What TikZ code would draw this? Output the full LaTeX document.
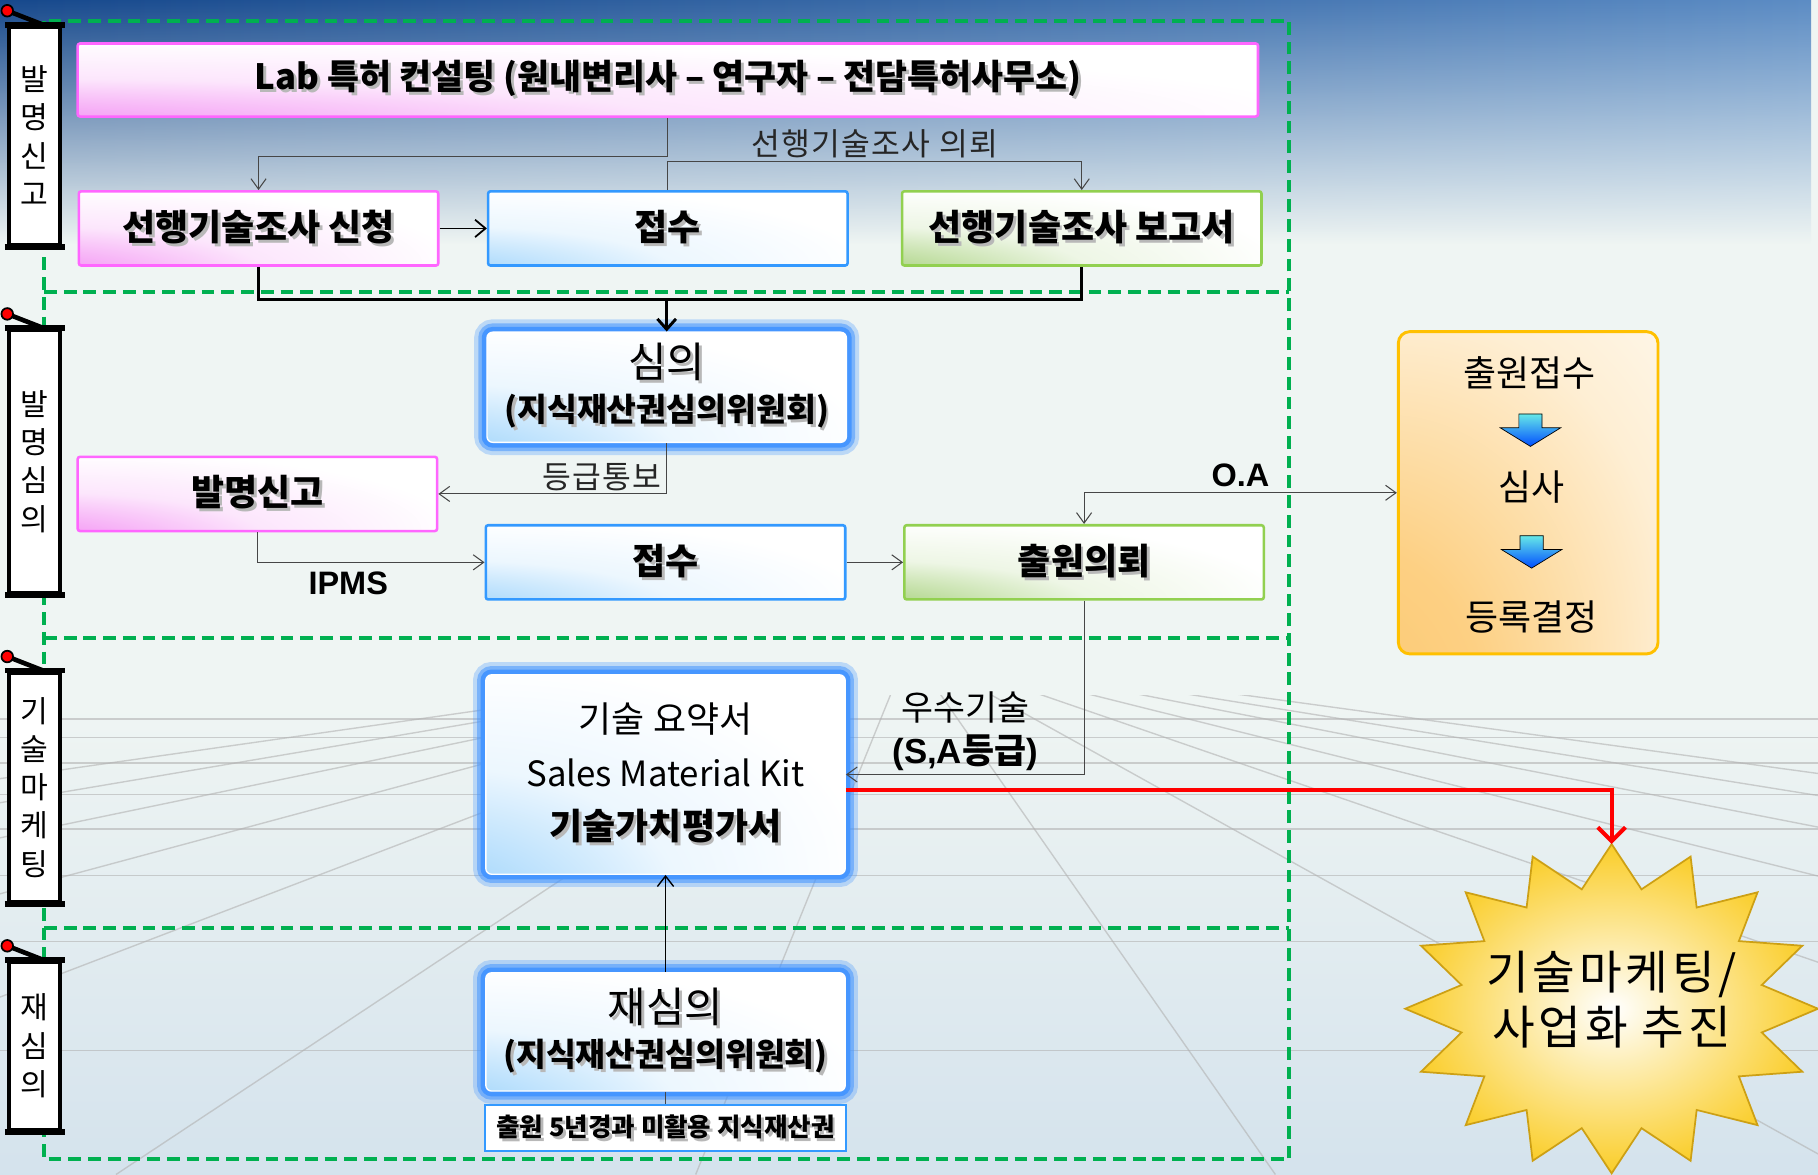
\documentclass[tikz,border=0pt]{standalone}
\usepackage{fontspec}
\setmainfont{Noto Sans CJK KR}
\setsansfont{Liberation Sans}
\usetikzlibrary{arrows.meta,calc,fadings,positioning}

% colours
\definecolor{bgtop}{RGB}{92,140,196}
\definecolor{bgdark}{RGB}{22,72,140}
\definecolor{bgcyan}{RGB}{175,220,228}
\definecolor{bgmid}{RGB}{239,245,243}
\definecolor{bglow}{RGB}{168,196,226}
\definecolor{zonegreen}{RGB}{0,176,80}
\definecolor{pinkline}{RGB}{255,102,255}
\definecolor{pinkfill}{RGB}{238,100,238}
\definecolor{blueline}{RGB}{51,153,255}
\definecolor{bluefill}{RGB}{120,195,250}
\definecolor{greenline}{RGB}{146,208,80}
\definecolor{greenfill}{RGB}{130,190,70}
\definecolor{glowblue}{RGB}{70,150,255}
\definecolor{orangeline}{RGB}{255,192,0}
\definecolor{orangefill}{RGB}{252,196,100}
\definecolor{goldedge}{RGB}{205,160,20}
\definecolor{gold}{RGB}{250,205,40}
\definecolor{wire}{RGB}{70,70,70}

\pgfdeclareverticalshading{backdrop}{100bp}{color(0bp)=(bglow); color(21bp)=(bglow!45!bgmid); color(45bp)=(bgmid); color(75bp)=(bgmid); color(86bp)=(bgcyan); color(100bp)=(bgtop)}
\tikzfading[name=fade down, top color=transparent!0, bottom color=transparent!100]
% box fills: colour pooled in the lower left corner
\pgfdeclareradialshading{pinkglow}{\pgfpoint{-45bp}{-45bp}}{color(0bp)=(pinkfill); color(15bp)=(pinkfill!65!white); color(32bp)=(pinkfill!16!white); color(50bp)=(white); color(100bp)=(white)}
\pgfdeclareradialshading{blueglow}{\pgfpoint{-45bp}{-45bp}}{color(0bp)=(bluefill); color(15bp)=(bluefill!65!white); color(32bp)=(bluefill!14!white); color(50bp)=(white); color(100bp)=(white)}
\pgfdeclareradialshading{greenglow}{\pgfpoint{-45bp}{-45bp}}{color(0bp)=(greenfill); color(15bp)=(greenfill!65!white); color(32bp)=(greenfill!14!white); color(50bp)=(white); color(100bp)=(white)}
\pgfdeclareradialshading{orangeglow}{\pgfpoint{-45bp}{-45bp}}{color(0bp)=(orangefill); color(25bp)=(orangefill!80!white); color(50bp)=(orangefill!28!white); color(75bp)=(white); color(100bp)=(white)}

\newcommand\fsz[2]{\fontsize{#1}{#2}\selectfont}
% grey drop shadow behind box titles
\newcommand\shadowed[1]{\leavevmode\rlap{\kern2.5pt\raisebox{-2.5pt}{\textcolor{black!28}{#1}}}#1}
% blue block arrow between two stages
\newcommand\downblock[1]{\path[stagearrow] (#1) ++(-10,-14) -- ++(20,0) -- ++(0,12) -- ++(16,0) -- ++(-26,16) -- ++(-26,-16) -- ++(16,0) -- cycle;}

\begin{document}
\begin{tikzpicture}[x=1pt,y=-1pt,
  every node/.style={inner sep=0pt},
  box/.style={draw, line width=2.2pt, rounded corners=2pt, minimum width=310pt, minimum height=64pt, font=\fsz{31}{34}\bfseries, align=center, shade},
  pinkbox/.style={box, draw=pinkline, shading=pinkglow},
  bluebox/.style={box, draw=blueline, shading=blueglow},
  greenbox/.style={box, draw=greenline, shading=greenglow},
  glowbox/.style={box, draw=white, line width=1.2pt, rounded corners=5pt, font=\fsz{29}{38}\bfseries, shading=blueglow,
    preaction={draw=glowblue, line width=22pt, opacity=.3},
    preaction={draw=glowblue, line width=15pt, opacity=.55},
    preaction={draw=glowblue, line width=9pt}},
  plainbox/.style={draw=blueline, line width=1.5pt, fill=white, minimum width=311pt, minimum height=40pt, font=\fsz{22}{24}\bfseries},
  officebox/.style={draw=orangeline, line width=2.5pt, rounded corners=10pt, minimum width=224pt, minimum height=278pt, shade, shading=orangeglow},
  stage/.style={font=\fsz{31}{34}},
  stagearrow/.style={draw=black, line width=0.6pt, top color=cyan!70!teal!60, bottom color=blue!70!cyan},
  banner/.style={draw, fill=white, line width=3.5pt, minimum width=44pt, align=center, font=\fsz{26}{33}},
  zone/.style={draw=zonegreen, line width=3.5pt, dash pattern=on 11pt off 6pt},
  gridline/.style={draw=black!30, line width=1.2pt, opacity=.6},
  wire/.style={draw=wire, line width=0.9pt},
  wirearrow/.style={wire, -{Straight Barb[length=9pt,width=13pt]}},
  note/.style={font=\fsz{27}{30}\addfontfeatures{LetterSpace=4}, text=black!85},
  tag/.style={font=\sffamily\bfseries\fsz{28}{30}},
  burst/.style={draw=goldedge, line width=1.5pt, inner color=white, outer color=gold},
  pushline/.style={draw=red, line width=3.5pt, -{Straight Barb[length=12pt,width=24pt]}}
]
\useasboundingbox (0,0) rectangle (1568,1013);

% backdrop with floor grid
\shade[shading=backdrop] (0,0) rectangle (1568,1013);
\shade[left color=bgdark, right color=bgtop, path fading=fade down] (0,0) rectangle (1568,210);
\begin{scope}
\clip (0,600) rectangle (1568,1013);
\foreach \gy in {620,636,658,685,715,755,812,906}
  \draw[gridline] (0,\gy) -- (1568,\gy);
\foreach \gx in {-2400,-1900,...,4100}
  \draw[gridline] (784,560) -- (\gx,1013);
\end{scope}

% stage zones
\draw[zone] (38,18) rectangle (1112,1000);
\draw[zone] (38,252) -- (1112,252);
\draw[zone] (38,550) -- (1112,550);
\draw[zone] (38,800) -- (1112,800);

% side banners
\node[banner, minimum height=188pt] (tag1) at (30,117) {발\\명\\신\\고};
\node[banner, minimum height=227pt] (tag2) at (30,398) {발\\명\\심\\의};
\node[banner, minimum height=198pt] (tag3) at (30,679) {기\\술\\마\\케\\팅};
\node[banner, minimum height=145pt] (tag4) at (30,902) {재\\심\\의};
\foreach \t in {tag1,tag2,tag3,tag4}{
  \draw[line width=5pt] ([xshift=-2pt]\t.north west) -- ([xshift=2pt]\t.north east);
  \draw[line width=5pt] ([xshift=-2pt]\t.south west) -- ([xshift=2pt]\t.south east);
  \draw[line width=4pt] ([shift={(0pt,12pt)}]\t.north west) -- ([xshift=7pt]\t.north);
  \filldraw[fill=red, draw=black, line width=1.5pt] ([shift={(0pt,12pt)}]\t.north west) circle (5pt);
}

% boxes
\node[pinkbox, minimum width=1018pt, minimum height=63pt, font=\fsz{30}{32}\bfseries] (lab) at (576,69)
  {\shadowed{Lab 특허 컨설팅 (원내변리사 – 연구자 – 전담특허사무소)}};
\node[pinkbox] (apply) at (223,197) {\shadowed{선행기술조사 신청}};
\node[bluebox] (recv1) at (576,197) {\shadowed{접수}};
\node[greenbox] (report) at (933,197) {\shadowed{선행기술조사 보고서}};
\node[glowbox, minimum height=95pt] (review) at (575,334)
  {{\fsz{36}{40}\mdseries\shadowed{심의}}\\{\fsz{28}{30}\shadowed{(지식재산권심의위원회)}}};
\node[pinkbox] (disclose) at (222,426) {\shadowed{발명신고}};
\node[bluebox] (recv2) at (574,485) {\shadowed{접수}};
\node[greenbox] (filing) at (935,485) {\shadowed{출원의뢰}};
\node[glowbox, minimum height=172pt, font=\fsz{31}{46}\mdseries] (kit) at (574,668)
  {기술 요약서\\{\fsz{30}{32}Sales Material Kit}\\{\bfseries\shadowed{기술가치평가서}}};
\node[glowbox, minimum height=102pt] (rereview) at (574,890)
  {{\fsz{36}{40}\mdseries\shadowed{재심의}}\\{\fsz{28}{30}\shadowed{(지식재산권심의위원회)}}};
\node[plainbox] (unused) at (574,973) {\shadowed{출원 5년경과 미활용 지식재산권}};

% patent office steps
\node[officebox] (office) at (1318,425) {};
\node[stage] (st1) at (1319,322) {출원접수};
\node[stage] (st2) at (1321,420) {심사};
\node[stage] (st3) at (1321,532) {등록결정};
\downblock{$(st1)!0.5!(st2)$}
\downblock{$(st2)!0.5!(st3)$}

% commercialisation burst
\path[burst] plot[variable=\k, samples at={0,...,31}]
  ({1390+((mod(\k,2)==0) ? 178 : 132)*cos(90+11.25*\k)}, {870-((mod(\k,2)==0) ? 142 : 105)*sin(90+11.25*\k)}) -- cycle;
\node[font=\fsz{40}{47}\addfontfeatures{LetterSpace=8}, align=center] (burst) at (1390,862) {기술마케팅/\\사업화 추진};
\coordinate (burst tip) at (1390,728);

% connectors
\draw[wirearrow] (lab.south) -- ++(0,33) -| (apply.north);
\draw[wirearrow] (recv1.north) -- ++(0,-25) -| node[pos=0.25, above=2pt, note] {선행기술조사 의뢰} (report.north);
\draw[line width=1.5pt, -{Straight Barb[length=9pt,width=15pt]}] (apply) -- (recv1);
\coordinate (merge) at (575,258);
\draw[line width=2.5pt] (apply.south) |- (merge) -| (report.south);
\draw[line width=2.5pt, -{Straight Barb[length=9pt,width=16pt]}] (merge) -- (review.north);
\draw[wirearrow] (review.south) |- node[pos=0.5, anchor=south east, xshift=-4pt, yshift=2pt, note] {등급통보} (disclose.east);
\draw[wirearrow] (disclose.south) |- node[pos=0.7, below=8pt, tag] {IPMS} (recv2.west);
\draw[wirearrow] (recv2) -- (filing);
\draw[wire, {Straight Barb[length=9pt,width=13pt]}-{Straight Barb[length=9pt,width=13pt]}] (filing.north) |- node[pos=0.75, above=5pt, tag] {O.A} (office.west);
\draw[wirearrow] (filing.south) |- node[pos=0.75, above=3pt, align=center, font=\fsz{30}{37}] {우수기술\\{\bfseries\sffamily (S,A}{\bfseries 등급}{\bfseries\sffamily )}} (kit.east);
\draw[pushline] ([yshift=-13pt]kit.east) -| (burst tip);
\draw[line width=1.2pt, -{Straight Barb[length=9pt,width=14pt]}] (rereview.north) -- (kit.south);
\draw[wire] (rereview.south) -- (unused.north);
\end{tikzpicture}
\end{document}
